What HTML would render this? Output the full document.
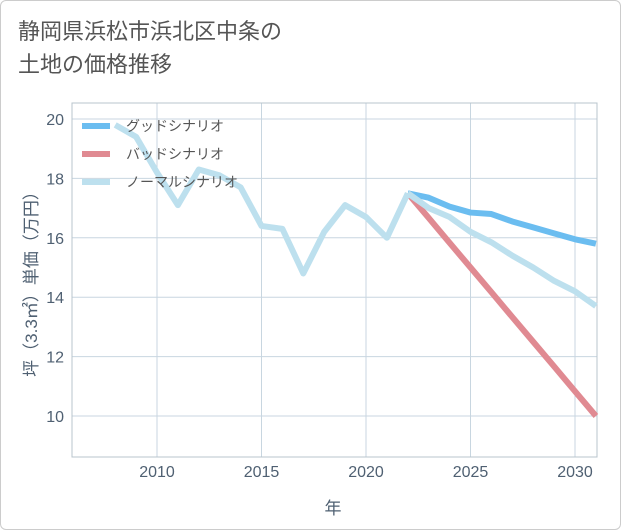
<!DOCTYPE html>
<html><head><meta charset="utf-8"><style>
body{margin:0;background:#fff;font-family:"Liberation Sans","Noto Sans CJK JP",sans-serif;}
#wrap{position:relative;width:619px;height:528px;border:1px solid #ccc;border-radius:6px;overflow:hidden;}
#title{position:absolute;left:17px;top:14px;font-size:22px;line-height:33px;color:#555;}
svg text{font-family:"Liberation Sans","Noto Sans CJK JP",sans-serif;}
</style></head><body>
<div id="wrap">
<div id="title">静岡県浜松市浜北区中条の<br>土地の価格推移</div>
<svg id="c" width="621" height="530" style="position:absolute;left:-1px;top:-1px"></svg>
</div>
<script>
const histYears=[2008,2009,2010,2011,2012,2013,2014,2015,2016,2017,2018,2019,2020,2021,2022];
const histValues=[19.8,19.4,18.2,17.1,18.3,18.1,17.7,16.4,16.3,14.8,16.2,17.1,16.7,16.0,17.5];
const projYears=[2022,2023,2024,2025,2026,2027,2028,2029,2030,2031];
const goodValues=[17.5,17.35,17.05,16.85,16.8,16.55,16.35,16.15,15.95,15.8];
const badValues=[17.5,16.67,15.83,15.0,14.17,13.33,12.5,11.67,10.83,10.0];
const normalValues=[17.5,17.0,16.7,16.2,15.85,15.4,15.0,14.55,14.2,13.7];
const xTicks=[2010,2015,2020,2025,2030];
const yTicks=[10,12,14,16,18,20];
const L=72,R=597,T=103,B=457;
const xs=y=>157+(y-2010)*20.9;
const ys=v=>119+(20-v)*29.7;
const svg=document.getElementById('c');const NS='http://www.w3.org/2000/svg';
function mk(t,a){const e=document.createElementNS(NS,t);for(const k in a)e.setAttribute(k,a[k]);svg.appendChild(e);return e;}
for(const t of yTicks){const g=mk('line',{x1:L,x2:R,y1:ys(t),y2:ys(t),stroke:'#c8d6e0','stroke-width':1});


const tx=mk('text',{x:64,y:ys(t)+6,'text-anchor':'end','font-size':16,fill:'#4f6072'});tx.textContent=t;

}
for(const t of xTicks){const g=mk('line',{x1:xs(t),x2:xs(t),y1:T,y2:B,stroke:'#c8d6e0','stroke-width':1});


const tx=mk('text',{x:xs(t),y:477,'text-anchor':'middle','font-size':16,fill:'#4f6072'});tx.textContent=t;

}
const fr=mk('rect',{x:L,y:T,width:R-L,height:B-T,fill:'none',stroke:'#b8c4cc'});


function line(yrs,vals,col,name){const p=mk('polyline',{points:yrs.map((y,i)=>xs(y)+','+ys(vals[i])).join(' '),fill:'none',stroke:col,'stroke-width':6,'stroke-linejoin':'round'});

}
line(projYears,goodValues,'#6bbdf0','good-scenario-line');
line(projYears,badValues,'#e08a92','bad-scenario-line');
line(projYears,normalValues,'#bde0ee','normal-scenario-line');
line(histYears,histValues,'#bde0ee','history-line');
const leg=[['グッドシナリオ','#6bbdf0'],['バッドシナリオ','#e08a92'],['ノーマルシナリオ','#bde0ee']];
leg.forEach((l,i)=>{const y=126+i*28;const s=mk('line',{x1:82,x2:110,y1:y,y2:y,stroke:l[1],'stroke-width':6});


const t=mk('text',{x:126,y:y+5,'font-size':14,fill:'#555'});t.textContent=l[0];

});
const xt=mk('text',{x:333,y:514,'text-anchor':'middle','font-size':17,fill:'#4f6072'});xt.textContent='年';


const yt=mk('text',{x:0,y:0,'text-anchor':'middle','font-size':17,fill:'#4f6072',transform:'translate(37,280) rotate(-90)'});yt.textContent='坪（3.3㎡）単価（万円）';


</script>
</body></html>
